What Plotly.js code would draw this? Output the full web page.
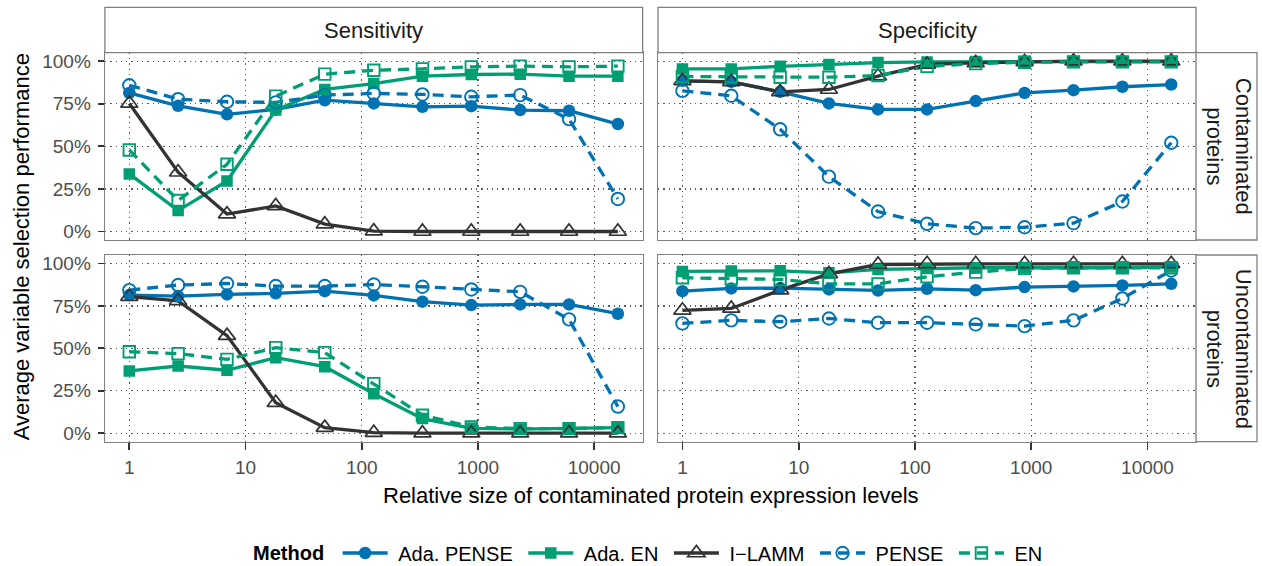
<!DOCTYPE html>
<html>
<head>
<meta charset="utf-8">
<script src="https://cdn.plot.ly/plotly-3.0.1.min.js"></script>
<style>html,body{margin:0;padding:0;background:#fff}#chart{width:1262px;height:566px}</style>
</head>
<body>
<div id="chart"></div>
<script>
// Relative size of contaminated protein expression levels (x positions of the points)
const xVals = [1, 2.63, 6.93, 18.2, 48.1, 127, 333, 877, 2310, 6080, 16000];

// Method names (legend order)
const methods = ["Ada. PENSE", "Ada. EN", "I\u2212LAMM", "PENSE", "EN"];

// Facet labels
const colLabels = ["Sensitivity", "Specificity"];
const rowLabels = ["Contaminated<br>proteins", "Uncontaminated<br>proteins"];

// Tick labels
const xTickVals = [1, 10, 100, 1000, 10000];
const xTickText = ["1", "10", "100", "1000", "10000"];
const yTickVals = [0, 25, 50, 75, 100];
const yTickText = ["0%", "25%", "50%", "75%", "100%"];

// Sensitivity, contaminated proteins (percent)
const sensCont_adaPense = [81.4, 73.8, 68.8, 71.7, 77.1, 75.2, 73.2, 73.6, 71.3, 70.9, 63.1];
const sensCont_adaEN    = [33.8, 12.3, 29.7, 71.3, 83.4, 86.9, 91.2, 92.2, 92.4, 91.2, 91.2];
const sensCont_ilamm    = [75.2, 34.8, 10.2, 15.0, 4.3, 0.2, 0, 0, 0, 0, 0];
const sensCont_pense    = [85.9, 77.7, 76.2, 75.8, 80.1, 81.1, 80.5, 79.1, 80.1, 66.0, 19.1];
const sensCont_en       = [47.9, 18.2, 39.5, 79.5, 92.4, 94.7, 95.5, 96.7, 97.1, 96.7, 97.1];

// Specificity, contaminated proteins
const specCont_adaPense = [88.5, 87.9, 82.0, 75.2, 71.7, 71.7, 76.6, 81.4, 83.0, 85.0, 86.3];
const specCont_adaEN    = [95.5, 95.5, 97.0, 98.0, 99.2, 99.6, 99.8, 99.8, 99.8, 99.8, 99.8];
const specCont_ilamm    = [88.5, 87.9, 82.0, 83.4, 91.2, 98.2, 99.0, 99.6, 100, 100, 100];
const specCont_pense    = [82.6, 79.7, 60.0, 32.2, 11.7, 4.5, 2.0, 2.5, 4.9, 17.6, 52.1];
const specCont_en       = [91.0, 91.0, 90.6, 90.6, 91.6, 96.9, 98.6, 99.4, 99.6, 99.6, 99.6];

// Sensitivity, uncontaminated proteins
const sensUnc_adaPense = [81.4, 80.8, 81.8, 82.4, 83.7, 81.2, 77.5, 75.5, 75.9, 75.9, 70.4];
const sensUnc_adaEN    = [36.7, 39.6, 37.1, 44.5, 39.2, 23.3, 8.6, 2.9, 2.4, 2.7, 3.3];
const sensUnc_ilamm    = [80.5, 78.0, 57.5, 18.0, 3.3, 0.3, 0, 0, 0, 0, 0];
const sensUnc_pense    = [84.3, 87.3, 88.2, 86.7, 86.7, 87.6, 86.3, 84.7, 83.3, 67.1, 15.7];
const sensUnc_en       = [48.0, 46.9, 43.5, 50.4, 47.5, 29.2, 10.6, 3.7, 2.7, 2.7, 3.3];

// Specificity, uncontaminated proteins
const specUnc_adaPense = [83.7, 85.3, 85.5, 84.7, 84.1, 85.1, 84.3, 86.1, 86.5, 87.1, 88.0];
const specUnc_adaEN    = [95.3, 95.5, 95.7, 94.5, 96.5, 97.0, 97.5, 97.5, 97.5, 97.5, 98.0];
const specUnc_ilamm    = [72.4, 73.5, 84.3, 93.9, 99.4, 99.8, 99.8, 99.8, 99.8, 99.8, 99.8];
const specUnc_pense    = [64.7, 66.5, 65.7, 67.6, 65.1, 65.1, 64.1, 63.1, 66.5, 79.4, 95.9];
const specUnc_en       = [91.6, 91.0, 90.6, 88.0, 88.0, 92.2, 94.9, 97.1, 97.5, 97.5, 97.5];

// ---------- styling ----------
const W = 1262, H = 566;
const FONT = "Liberation Sans, Arial, Helvetica, sans-serif";
const BLUE = "#0072B2", GREEN = "#009E73", DARK = "#333333";
const DASH = "11px,7px";
const styles = [
  {color: BLUE,  dash: "solid", symbol: "circle",           size: 12.5, lw: 0},
  {color: GREEN, dash: "solid", symbol: "square",           size: 11.5, lw: 0},
  {color: DARK,  dash: "solid", symbol: "triangle-up-open", size: 15,   lw: 1.7},
  {color: BLUE,  dash: DASH,    symbol: "circle-open",      size: 12.5, lw: 1.9},
  {color: GREEN, dash: DASH,    symbol: "square-open",      size: 11.5, lw: 1.9}
];

const panels = [
  {xa: "x",  ya: "y",  series: [sensCont_adaPense, sensCont_adaEN, sensCont_ilamm, sensCont_pense, sensCont_en]},
  {xa: "x2", ya: "y2", series: [specCont_adaPense, specCont_adaEN, specCont_ilamm, specCont_pense, specCont_en]},
  {xa: "x3", ya: "y3", series: [sensUnc_adaPense, sensUnc_adaEN, sensUnc_ilamm, sensUnc_pense, sensUnc_en]},
  {xa: "x4", ya: "y4", series: [specUnc_adaPense, specUnc_adaEN, specUnc_ilamm, specUnc_pense, specUnc_en]}
];

const traces = [];
// line layer
panels.forEach(p => {
  p.series.forEach((vals, i) => {
    traces.push({
      type: "scatter", mode: "lines", x: xVals, y: vals, xaxis: p.xa, yaxis: p.ya,
      line: {color: styles[i].color, width: 3.3, dash: styles[i].dash},
      showlegend: false, hoverinfo: "skip"
    });
  });
});
// point layer
panels.forEach(p => {
  p.series.forEach((vals, i) => {
    const s = styles[i];
    traces.push({
      type: "scatter", mode: "markers", x: xVals, y: vals, xaxis: p.xa, yaxis: p.ya,
      marker: {color: s.color, symbol: s.symbol, size: s.size, line: {color: s.color, width: s.lw}},
      showlegend: false, hoverinfo: "skip"
    });
  });
});
// legend entries
const NB = "\u00a0";
methods.forEach((m, i) => {
  const s = styles[i];
  traces.push({
    type: "scatter", mode: "lines+markers", x: [null], y: [null], xaxis: "x", yaxis: "y",
    name: NB + m + NB,
    line: {color: s.color, width: 3.3, dash: s.dash},
    marker: {color: s.color, symbol: s.symbol, size: s.size, line: {color: s.color, width: s.lw}},
    showlegend: true
  });
});

// geometry (pixels)
const colX = [[104.9, 642.6], [658, 1196]];
const rowY = [[52.7, 240], [255, 441.7]];
const px = v => v / W;
const py = v => 1 - v / H;

const BORDER = "#808080";
const GRID = "#5a5a5a";
function xAxis(col, row, anchor) {
  const bottom = row === 1;
  return {
    domain: [px(colX[col][0]), px(colX[col][1])], anchor: anchor,
    type: "log", range: [-0.21, 4.417],
    tickvals: xTickVals, ticktext: xTickText,
    showticklabels: bottom, ticks: bottom ? "outside" : "", ticklen: 7, tickwidth: 1.8, tickcolor: "#333",
    ticklabelstandoff: 1,
    tickfont: {family: FONT, size: 19, color: "#4d4d4d"},
    showgrid: true, gridcolor: GRID, gridwidth: 1.2, griddash: "1.3px,4px",
    zeroline: false, showline: true, mirror: true, linecolor: BORDER, linewidth: 1.3,
    fixedrange: true
  };
}
function yAxis(col, row, anchor) {
  const left = col === 0;
  return {
    domain: [py(rowY[row][1]), py(rowY[row][0])], anchor: anchor,
    range: [-5, 105],
    tickvals: yTickVals, ticktext: yTickText,
    showticklabels: left, ticks: left ? "outside" : "", ticklen: 6, tickwidth: 1.8, tickcolor: "#333",
    ticklabelstandoff: 3,
    tickfont: {family: FONT, size: 19, color: "#4d4d4d"},
    showgrid: true, gridcolor: GRID, gridwidth: 1.2, griddash: "1.3px,4px",
    zeroline: false, showline: true, mirror: true, linecolor: BORDER, linewidth: 1.3,
    fixedrange: true
  };
}

const shapes = [];
const annotations = [];
// top strips
colX.forEach((c, i) => {
  shapes.push({type: "rect", xref: "paper", yref: "paper",
    x0: px(c[0]), x1: px(c[1]), y0: py(52.7), y1: py(7.3),
    fillcolor: "#ffffff", line: {color: BORDER, width: 1.3}});
  annotations.push({xref: "paper", yref: "paper", x: px((c[0] + c[1]) / 2), y: py(30),
    text: colLabels[i], showarrow: false, xanchor: "center", yanchor: "middle",
    font: {family: FONT, size: 22, color: "#1a1a1a"}});
});
// right strips
rowY.forEach((r, i) => {
  shapes.push({type: "rect", xref: "paper", yref: "paper",
    x0: px(1196), x1: px(1257), y0: py(r[1]), y1: py(r[0]),
    fillcolor: "#ffffff", line: {color: BORDER, width: 1.3}});
  annotations.push({xref: "paper", yref: "paper", x: px(1228.5), y: py((r[0] + r[1]) / 2),
    text: rowLabels[i], showarrow: false, textangle: 90, xanchor: "center", yanchor: "middle",
    font: {family: FONT, size: 22, color: "#1a1a1a"}});
});
// axis titles
annotations.push({xref: "paper", yref: "paper", x: px(21), y: py(247.3),
  text: "Average variable selection performance", showarrow: false, textangle: -90,
  xanchor: "center", yanchor: "middle", font: {family: FONT, size: 22, color: "#000"}});
annotations.push({xref: "paper", yref: "paper", x: px(650.5), y: py(495),
  text: "Relative size of contaminated protein expression levels", showarrow: false,
  xanchor: "center", yanchor: "middle", font: {family: FONT, size: 22, color: "#000"}});

const layout = {
  width: W, height: H,
  margin: {l: 0, r: 0, t: 0, b: 0, pad: 0, autoexpand: false},
  paper_bgcolor: "#ffffff", plot_bgcolor: "#ffffff",
  font: {family: FONT, size: 20, color: "#000"},
  xaxis: xAxis(0, 0, "y"), yaxis: yAxis(0, 0, "x"),
  xaxis2: xAxis(1, 0, "y2"), yaxis2: yAxis(1, 0, "x2"),
  xaxis3: xAxis(0, 1, "y3"), yaxis3: yAxis(0, 1, "x3"),
  xaxis4: xAxis(1, 1, "y4"), yaxis4: yAxis(1, 1, "x4"),
  shapes: shapes, annotations: annotations,
  showlegend: true,
  legend: {
    orientation: "h", x: px(251), xanchor: "left", y: py(553), yanchor: "middle",
    title: {text: "<b>Method</b>" + NB, side: "left", font: {family: FONT, size: 20, color: "#000"}},
    font: {family: FONT, size: 20, color: "#000"},
    itemwidth: 45, bgcolor: "rgba(0,0,0,0)", traceorder: "normal"
  },
  hovermode: false
};

Plotly.newPlot("chart", traces, layout, {staticPlot: true, displayModeBar: false});
</script>
</body>
</html>
